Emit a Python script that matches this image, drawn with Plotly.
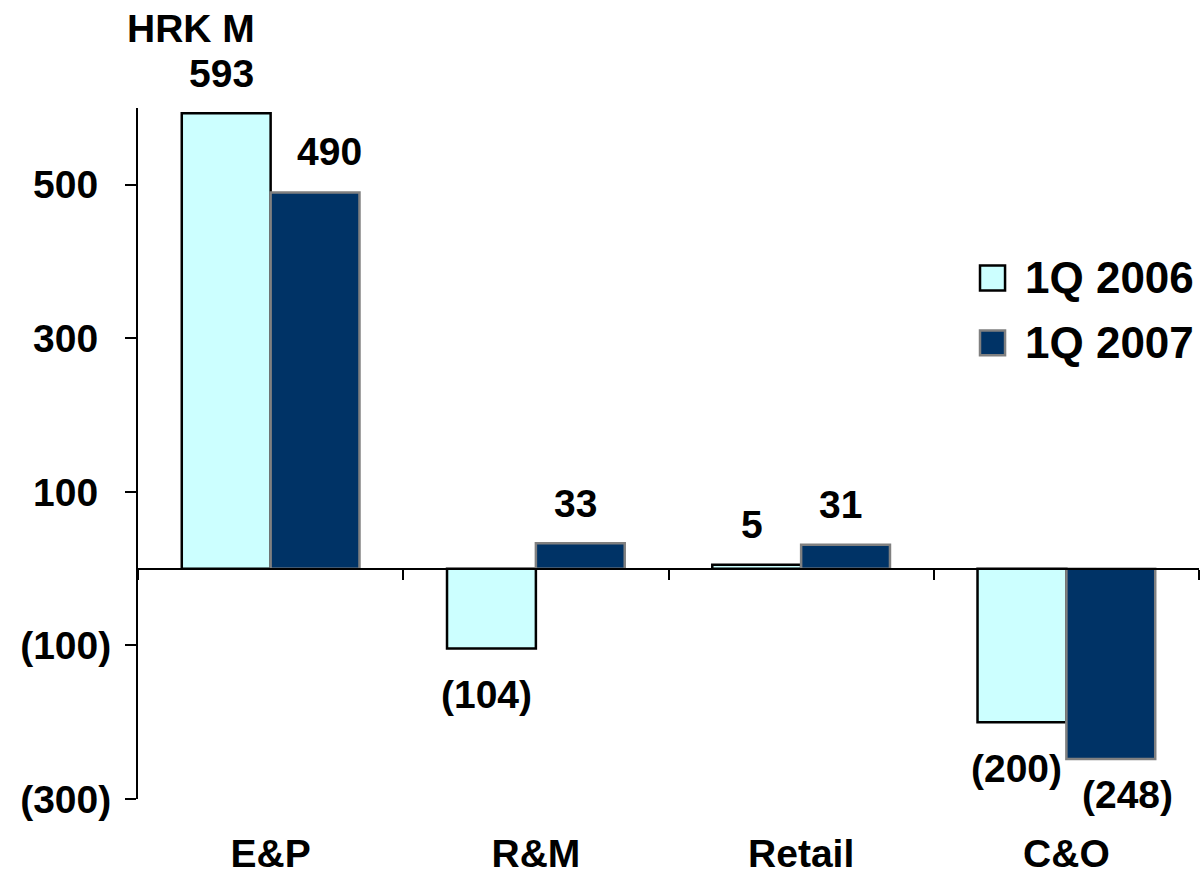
import plotly.graph_objects as go

# ---------------- data ----------------
categories = ["E&P", "R&M", "Retail", "C&O"]
series_names = ["1Q 2006", "1Q 2007"]
values_2006 = [593, -104, 5, -200]
values_2007 = [490, 33, 31, -248]
y_tick_values = [500, 300, 100, -100, -300]
unit_label = "HRK M"

# ---------------- style ----------------
FONT = "Liberation Sans, Arial, sans-serif"
FILL = {"1Q 2006": "#CCFFFF", "1Q 2007": "#003366"}
EDGE = {"1Q 2006": "#000000", "1Q 2007": "#808080"}
BARGAP = 0.33
# small hand nudges of individual data labels (px)
LABEL_NUDGE = {("1Q 2007", "E&P"): (14, 1), ("1Q 2007", "C&O"): (17, 11)}


def fmt(v):
    return f"({abs(v):,})" if v < 0 else f"{v:,}"


def tick_fmt(v):
    # positive numbers padded with an invisible parenthesis (accounting format)
    if v < 0:
        return f"({abs(v):,})"
    return f"{v:,}<span style='color:rgba(0,0,0,0)'>)</span>"


series_values = {"1Q 2006": values_2006, "1Q 2007": values_2007}

fig = go.Figure()
for name in series_names:
    fig.add_trace(go.Bar(
        name=name,
        x=categories,
        y=series_values[name],
        marker=dict(color=FILL[name], line=dict(color=EDGE[name], width=2.5)),
        showlegend=False,
        hoverinfo="x+y",
    ))

# invisible trace carrying the zero-level category axis (ticks at boundaries)
fig.add_trace(go.Scatter(x=[None], y=[None], xaxis="x2", yaxis="y",
                         showlegend=False, hoverinfo="skip"))

annotations = []
half = (1 - BARGAP) / 4
for si, name in enumerate(series_names):
    offset = -half if si == 0 else half
    for ci, (cat, v) in enumerate(zip(categories, series_values[name])):
        dx, dy = LABEL_NUDGE.get((name, cat), (-5, 0))
        ys = 40 if v >= 0 else -46
        annotations.append(dict(
            x=ci + offset, y=v, xref="x", yref="y",
            text=fmt(v), showarrow=False,
            xanchor="center", yanchor="middle",
            xshift=dx, yshift=ys + (dy if v >= 0 else dy),
            font=dict(family=FONT, size=39, color="black", weight="bold"),
        ))

# unit label
annotations.append(dict(
    x=0.05, y=1.115, xref="paper", yref="paper", text=unit_label,
    showarrow=False, xanchor="center", yanchor="middle",
    font=dict(family=FONT, size=39, color="black", weight="bold"),
))

# manual legend (large keys)
shapes = []
legend_rows_y = [0.754, 0.660]
box_h = 12.5 / 695
for name, yc in zip(series_names, legend_rows_y):
    shapes.append(dict(type="rect", xref="paper", yref="paper",
                       x0=0.7936, x1=0.8172, y0=yc - box_h, y1=yc + box_h,
                       fillcolor=FILL[name],
                       line=dict(color=EDGE[name], width=2.5)))
    annotations.append(dict(
        x=0.834, y=yc, xref="paper", yref="paper", text=name,
        showarrow=False, xanchor="left", yanchor="middle",
        font=dict(family=FONT, size=44, color="black", weight="bold"),
    ))

n = len(categories)
fig.update_layout(
    width=1202, height=878,
    margin=dict(l=138, r=3, t=108, b=75),
    paper_bgcolor="white", plot_bgcolor="white",
    barmode="group", bargap=BARGAP, bargroupgap=0,
    annotations=annotations, shapes=shapes,
    xaxis=dict(
        type="category", range=[-0.5, n - 0.5],
        showline=False, ticks="", showgrid=False, zeroline=False,
        tickfont=dict(family=FONT, size=39, color="black", weight="bold"),
        ticklabelstandoff=28,
    ),
    xaxis2=dict(
        overlaying="x", anchor="free", position=1 / 3, side="bottom",
        range=[-0.5, n - 0.5], showgrid=False, zeroline=False,
        showline=True, linecolor="black", linewidth=2,
        ticks="outside", ticklen=10, tickwidth=2, tickcolor="black",
        tickvals=[i - 0.5 for i in range(n + 1)], showticklabels=False,
    ),
    yaxis=dict(
        range=[-300, 600], showgrid=False, zeroline=False,
        showline=True, linecolor="black", linewidth=2,
        ticks="outside", ticklen=11, tickwidth=2, tickcolor="black",
        tickvals=y_tick_values, ticktext=[tick_fmt(v) for v in y_tick_values],
        tickfont=dict(family=FONT, size=39, color="black", weight="bold"),
        ticklabelstandoff=6,
    ),
)

fig.write_html("out.html")
